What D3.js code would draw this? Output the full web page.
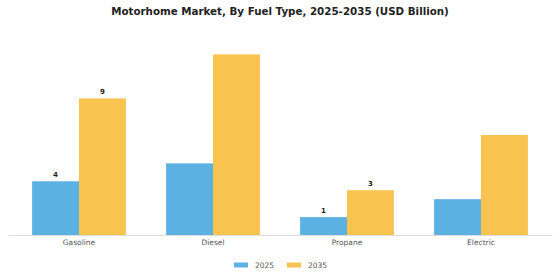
<!DOCTYPE html>
<html>
<head>
<meta charset="utf-8">
<script src="https://cdn.jsdelivr.net/npm/d3@7"></script>
<style>
  body { margin: 0; background: #fff; }
  svg { font-family: "DejaVu Sans", sans-serif; }
</style>
</head>
<body>
<div id="chart"></div>
<script>
// datos
const categories = ["Gasoline", "Diesel", "Propane", "Electric"];
const years = ["2025", "2035"];
const values2025 = [3.6, 4.8, 1.2, 2.4];
const values2035 = [9.15, 12.1, 3.0, 6.7];
const labelled = ["Gasoline", "Propane"];
const colors = ["#5cb1e3", "#f8c34e"];

const width = 560, height = 280;
const baseY = 235;

const svg = d3.select("#chart")
  .append("svg")
    .attr("width", width)
    .attr("height", height);

// título
svg.append("text")
  .attr("x", width / 2)
  .attr("y", 15)
  .attr("text-anchor", "middle")
  .style("font-size", "10.3px")
  .style("font-weight", "bold")
  .style("fill", "#222")
  .text("Motorhome Market, By Fuel Type, 2025-2035 (USD Billion)");

const x = d3.scaleBand()
  .domain(categories)
  .range([8, 552])
  .paddingInner(0.3)
  .paddingOuter(0.18);

const x1 = d3.scaleBand()
  .domain(years)
  .range([0, x.bandwidth()]);

const y = d3.scaleLinear()
  .domain([0, 13.4])
  .range([baseY, 35]);

const data = categories.map((c, i) => ({
  cat: c,
  vals: [values2025[i], values2035[i]]
}));

const group = svg.append("g")
  .selectAll("g")
  .data(data)
  .join("g")
    .attr("transform", d => `translate(${x(d.cat)},0)`);

group.selectAll("rect")
  .data(d => d.vals.map((v, j) => ({ cat: d.cat, year: years[j], v: v, j: j })))
  .join("rect")
    .attr("x", d => x1(d.year))
    .attr("y", d => y(d.v))
    .attr("width", x1.bandwidth())
    .attr("height", d => baseY - y(d.v))
    .style("fill", d => colors[d.j]);

// etiquetas de valor
group.selectAll("text.val")
  .data(d => labelled.includes(d.cat) ? d.vals.map((v, j) => ({ year: years[j], v: v })) : [])
  .join("text")
    .attr("class", "val")
    .attr("x", d => x1(d.year) + x1.bandwidth() / 2)
    .attr("y", d => y(d.v) - 4.5)
    .attr("text-anchor", "middle")
    .style("font-size", "7px")
    .style("font-weight", "bold")
    .style("fill", "#222")
    .text(d => d3.format(".0f")(d.v));

// eje x
const axis = svg.append("g")
  .attr("transform", `translate(0,${baseY})`)
  .call(d3.axisBottom(x).tickSize(0).tickPadding(5));
axis.select(".domain").attr("stroke", "#dddddd");
axis.selectAll("text")
  .style("font-family", "DejaVu Sans, sans-serif")
  .style("font-size", "7.5px")
  .style("fill", "#555");

// leyenda
const legendX = [234, 287];
const legend = svg.append("g")
  .selectAll("g")
  .data(years)
  .join("g")
    .attr("transform", (d, i) => `translate(${legendX[i]},265)`);

legend.append("rect")
  .attr("x", 0)
  .attr("y", -2.5)
  .attr("width", 14)
  .attr("height", 5)
  .style("fill", (d, i) => colors[i]);

legend.append("text")
  .attr("x", 21)
  .attr("y", 0)
  .attr("dy", "0.35em")
  .style("font-size", "7.5px")
  .style("fill", "#555")
  .text(d => d);
</script>
</body>
</html>
